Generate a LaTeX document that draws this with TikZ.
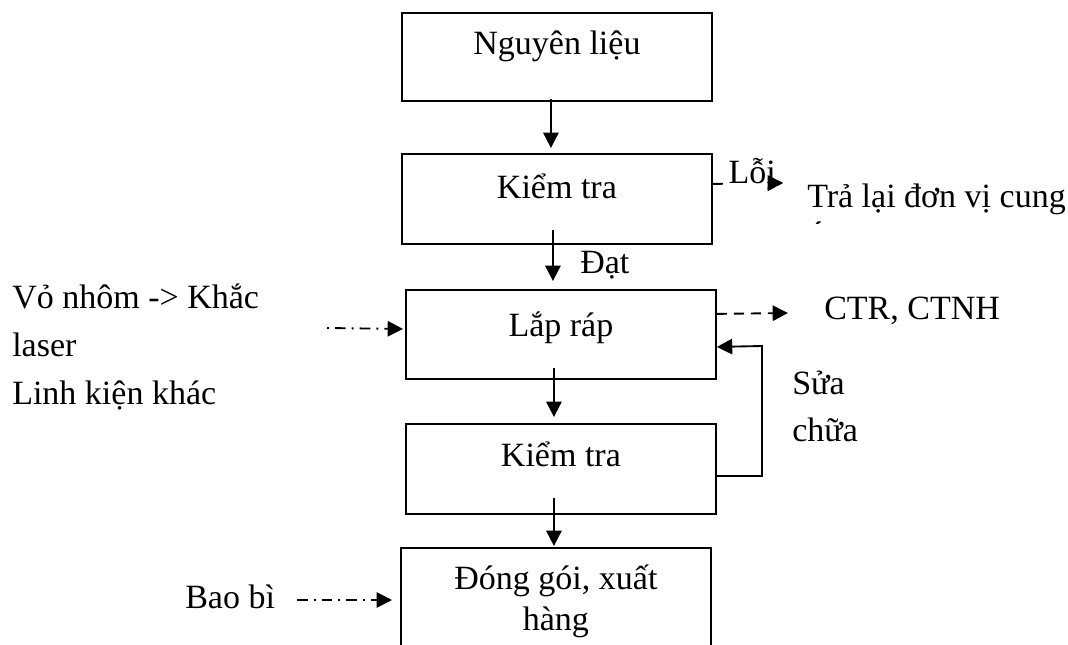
\documentclass[tikz,border=0pt]{standalone}
\usepackage{fontspec}
\setmainfont{Liberation Serif}
\usetikzlibrary{arrows.meta}
\begin{document}
\begin{tikzpicture}[x=0.75pt,y=-0.75pt,
  font=\fontsize{25.5pt}{30.75pt}\selectfont,
  stage/.style={draw, line width=1.4pt, inner xsep=0pt, inner ysep=0pt,
    minimum width=232.5pt, align=center, anchor=north west},
  lbl/.style={inner sep=0pt, anchor=base west},
  flow/.style={line width=1.4pt, -{Triangle[length=11.5pt,width=11.5pt]}},
  wastearrow/.style={flow, dash pattern=on 7.5pt off 5.25pt},
  inputarrow/.style={flow, dash pattern=on 1.5pt off 4.5pt on 8pt off 4.5pt}]
\useasboundingbox (0,0) rectangle (1068,645);
\clip (0,0) rectangle (1068,645);

% process stages
\node[stage, text height=31.5pt, text depth=34.5pt] (b1) at (401,12) {Nguyên liệu};
\node[stage, text height=33.75pt, text depth=33.75pt] (b2) at (401,153) {Kiểm tra};
\node[stage, text height=35.25pt, text depth=31.5pt] (b3) at (405,289) {Lắp ráp};
\node[stage, text height=32.25pt, text depth=35.25pt] (b4) at (405,423) {Kiểm tra};
\node[stage, text width=232.5pt, align=flush center,
      text height=31.5pt, text depth=75.75pt] (b5) at (400,547) {Đóng gói, xuất\\hàng};

% main flow
\draw[flow] ([xshift=-4.5pt,yshift=2.25pt]b1.south) -- ([xshift=-4.5pt,yshift=3.75pt]b2.north);
\draw[flow] ([xshift=-3pt,yshift=11.25pt]b2.south) -- ([xshift=-6pt,yshift=6pt]b3.north);
\draw[flow] ([xshift=-5.25pt,yshift=9pt]b3.south) -- ([xshift=-5.25pt,yshift=4.5pt]b4.north);
\draw[flow] ([xshift=-5.25pt,yshift=12.75pt]b4.south) -- ([xshift=-1.5pt,yshift=0.75pt]b5.north);
\node[lbl] (dat) at (580,274) {Đạt};

% rejected materials
\coordinate (loitip) at (783,183);
\draw[wastearrow] ([yshift=11.25pt]b2.east) -- (loitip);
\node[lbl, fill=white, text depth=2pt, inner xsep=1pt] (loi) at (727,184) {Lỗi};
\draw[flow] ([xshift=-1pt]loitip) -- (loitip);
\node[lbl] (tra) at (807,208) {Trả lại đơn vị cung};
\begin{scope}
  \clip (790,200) rectangle (880,224);
  \node[lbl] (tra2) at (807,246) {ứng};
\end{scope}

% waste from assembly
\coordinate (ctrtip) at (788,313);
\draw[wastearrow] ([yshift=15.4pt]b3.east) -- (ctrtip);
\node[lbl] (ctr) at (824,320) {CTR, CTNH};

% repair loop
\coordinate (rc) at (762,346);
\draw[flow] ([yshift=-5.25pt]b4.east) -| (rc) -- ([yshift=-9.375pt]b3.east);
\node[lbl] (sua1) at (792,394) {Sửa};
\node[lbl] (sua2) at (792,441) {chữa};

% components
\node[lbl] (in1) at (12,309) {Vỏ nhôm -> Khắc};
\node[lbl] (in2) at (12,357) {laser};
\node[lbl] (in3) at (12,404) {Linh kiện khác};
\coordinate (instart) at (327,328);
\draw[inputarrow] (instart) -- ([xshift=-1.5pt,yshift=4.1pt]b3.west);

% packaging
\node[lbl] (bao) at (185,608) {Bao bì};
\coordinate (baostart) at (297,600);
\draw[inputarrow, dash phase=6pt] (baostart) -- ([xshift=-6pt,yshift=-39.75pt]b5.north west);
\end{tikzpicture}
\end{document}
